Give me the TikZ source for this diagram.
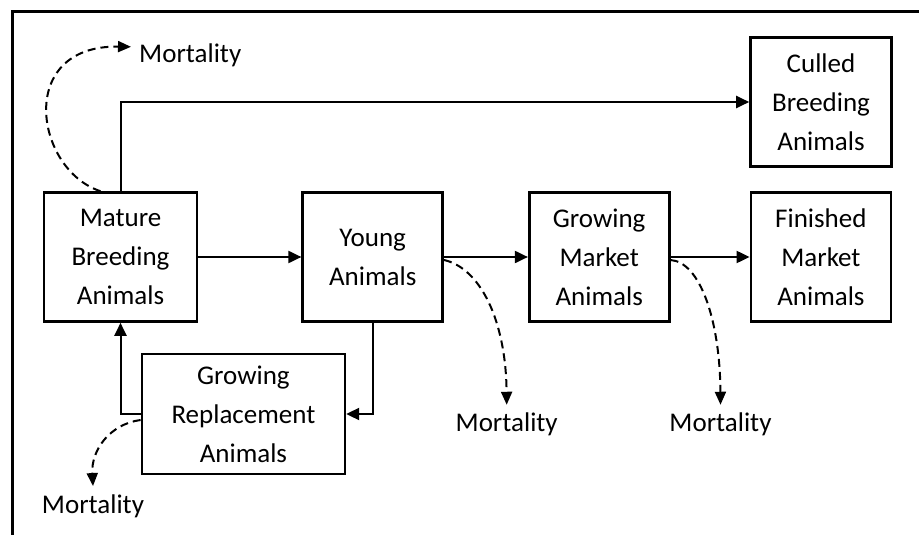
\documentclass[tikz,border=0pt]{standalone}
\usepackage{fontspec}
\setmainfont{Carlito}
\usetikzlibrary{arrows.meta,calc}
\begin{document}
\begin{tikzpicture}[x=1pt,y=-1pt,
  box/.style={draw, line width=2.6pt, minimum width=#1, minimum height=129pt, inner sep=0pt, align=center, font=\fontsize{27pt}{39pt}\selectfont},
  mort/.style={inner sep=8pt, font=\fontsize{27pt}{39pt}\selectfont},
  conn/.style={line width=2pt, -{Triangle[length=13pt,width=12pt]}},
  dconn/.style={line width=2pt, dash pattern=on 8pt off 5pt, -{Triangle[length=13pt,width=11pt]}},
  frame/.style={line width=3.2pt}]
\useasboundingbox (0,0) rectangle (919,535);
% outer frame (only left and top edges visible)
\draw[frame] (12.5,535) -- (12.5,11.5) -- (919,11.5);
% boxes
\node[box=153pt] (mature) at (120.5,257) {Mature\\Breeding\\Animals};
\node[box=140pt] (young) at (372.7,257) {Young\\Animals};
\node[box=140pt] (gm) at (599.2,257) {Growing\\Market\\Animals};
\node[box=140pt] (fm) at (820.9,257) {Finished\\Market\\Animals};
\node[box=141pt] (culled) at (821,102) {Culled\\Breeding\\Animals};
\node[box=203pt, minimum height=120pt] (gr) at (243.4,414) {Growing\\Replacement\\Animals};
% mortality labels
\node[mort, anchor=base west] (m1) at (131,63) {Mortality};
\node[mort, anchor=base] (m2) at (93,513) {Mortality};
\node[mort, anchor=base] (m3) at (506.7,431.7) {Mortality};
\node[mort, anchor=base] (m4) at (720.5,431.7) {Mortality};
% solid flows
\draw[conn] (mature) -- (young);
\draw[conn] (young) -- (gm);
\draw[conn] (gm) -- (fm);
\draw[conn] (mature.north) |- (culled.west);
\draw[conn] (young.south) |- (gr.east);
\draw[conn] (gr.west) -| (mature.south);
% mortality flows
\draw[dconn] ($(mature.north)+(-20,0)$) .. controls (35,170) and (15,45) .. ($(m1.west)+(0,-9)$);
\draw[dconn] ($(gr.west)+(0,6)$) .. controls (110,424) and (91,450) .. (m2.north);
\draw[dconn] ($(young.east)+(0,3)$) .. controls (480,268) and (506,320) .. (m3.north);
\draw[dconn] ($(gm.east)+(0,3)$) .. controls (700,262) and (720,320) .. (m4.north);
\end{tikzpicture}
\end{document}
